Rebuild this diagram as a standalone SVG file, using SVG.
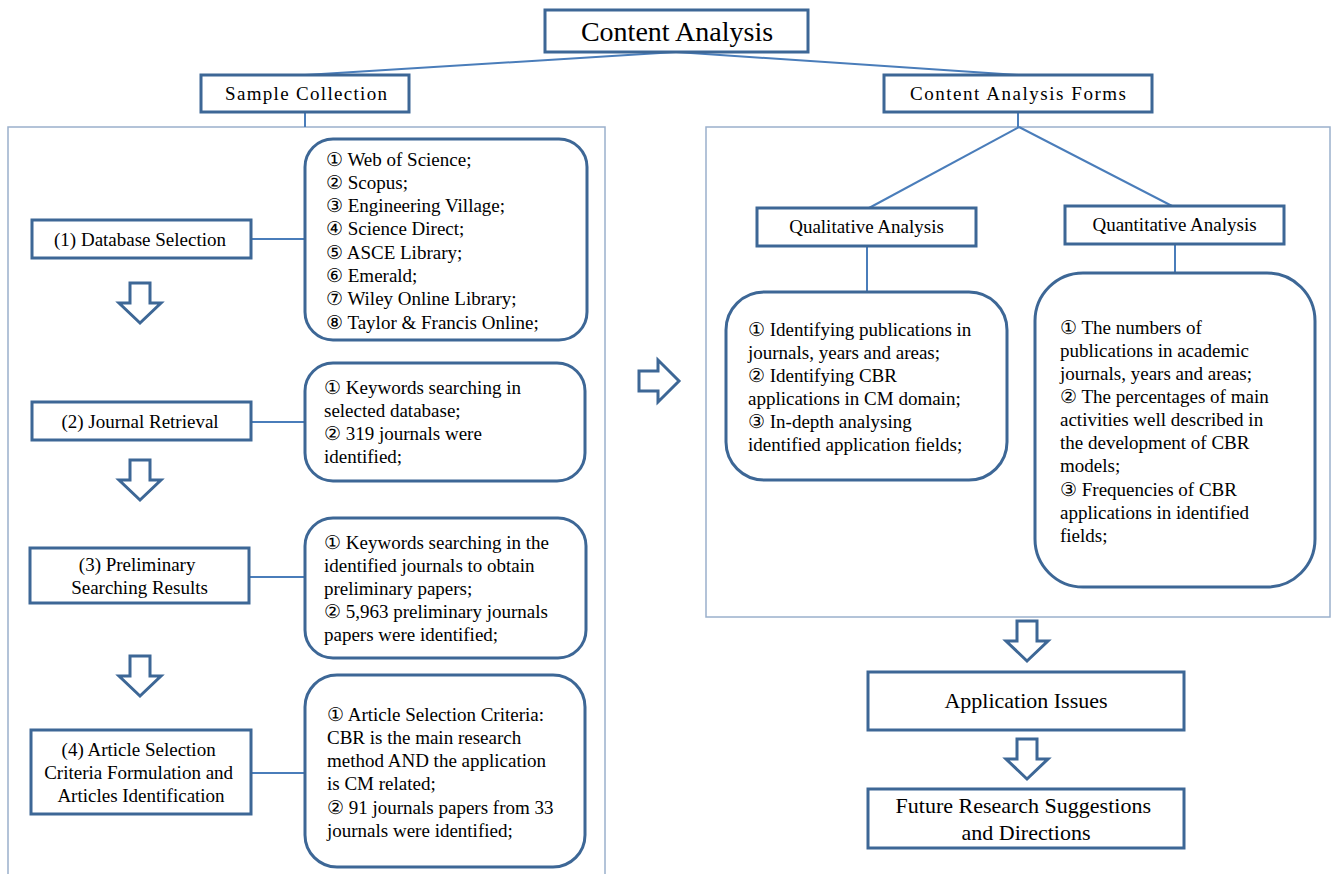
<svg xmlns="http://www.w3.org/2000/svg" width="1333" height="874" viewBox="0 0 1333 874">
<defs>
<style>
text{font-family:"Liberation Serif","Times New Roman",Tinos,"DejaVu Serif",serif;fill:#000;}
.box{fill:#fff;stroke:#3D6796;stroke-width:3;}
.rbox{fill:#fff;stroke:#3D6796;stroke-width:3;}
.panel{fill:none;stroke:#9AB0CC;stroke-width:1.5;}
.conn{fill:none;stroke:#4A7DBA;stroke-width:2;}
.arrow{fill:#fff;stroke:#3D6796;stroke-width:3;stroke-linejoin:miter;}
.lbl{font-size:19px;text-anchor:middle;}
.body{font-size:19px;}
</style>
<path id="darr" d="M-10,0 H10 V20 H21 L0,40 L-21,20 H-10 Z"/>
</defs>
<rect width="1333" height="874" fill="#fff"/>

<g id="panels">
<rect class="panel" x="8" y="127" width="597" height="760"/>
<rect class="panel" x="706" y="127" width="624" height="490"/>
</g>

<g id="connectors">
<line class="conn" x1="676" y1="52" x2="305" y2="75"/>
<line class="conn" x1="676" y1="52" x2="1018" y2="75"/>
<line class="conn" x1="305" y1="112" x2="305" y2="127"/>
<line class="conn" x1="1018" y1="112" x2="1018" y2="127"/>
<line class="conn" x1="1019" y1="127" x2="869" y2="208"/>
<line class="conn" x1="1019" y1="127" x2="1174" y2="207"/>
<line class="conn" x1="867" y1="246" x2="867" y2="292"/>
<line class="conn" x1="1175" y1="244" x2="1175" y2="273"/>
<line class="conn" x1="251" y1="239" x2="305" y2="239"/>
<line class="conn" x1="251" y1="422" x2="305" y2="422"/>
<line class="conn" x1="249" y1="577" x2="305" y2="577"/>
<line class="conn" x1="251" y1="773" x2="305" y2="773"/>
</g>

<g id="arrows">
<use href="#darr" class="arrow" x="140" y="283"/>
<use href="#darr" class="arrow" x="140" y="460"/>
<use href="#darr" class="arrow" x="140" y="656"/>
<use href="#darr" class="arrow" x="1027" y="621"/>
<use href="#darr" class="arrow" x="1027" y="739"/>
<path class="arrow" d="M639,371 H658 V360 L679,381 L658,402 V391 H639 Z"/>
</g>

<g id="n-content-analysis">
<rect class="box" x="545" y="10" width="263" height="42"/>
<text x="677" y="41" style="font-size:28px;text-anchor:middle">Content Analysis</text>
</g>

<g id="n-sample-collection">
<rect class="box" x="201" y="75" width="208" height="37"/>
<text x="306" y="100" class="lbl" textLength="162" lengthAdjust="spacing">Sample Collection</text>
</g>

<g id="n-forms">
<rect class="box" x="884" y="75" width="268" height="37"/>
<text x="1018" y="100" class="lbl" textLength="216" lengthAdjust="spacing">Content Analysis Forms</text>
</g>

<g id="n-db-selection">
<rect class="box" x="32" y="220" width="219" height="38"/>
<text x="140" y="246" class="lbl">(1) Database Selection</text>
</g>

<g id="n-db-list">
<rect class="rbox" x="305" y="139" width="282" height="201" rx="28"/>
<text class="body" x="326">
<tspan x="326" y="166">① Web of Science;</tspan>
<tspan x="326" y="189">② Scopus;</tspan>
<tspan x="326" y="212">③ Engineering Village;</tspan>
<tspan x="326" y="235">④ Science Direct;</tspan>
<tspan x="326" y="259">⑤ ASCE Library;</tspan>
<tspan x="326" y="282">⑥ Emerald;</tspan>
<tspan x="326" y="305">⑦ Wiley Online Library;</tspan>
<tspan x="326" y="329">⑧ Taylor &amp; Francis Online;</tspan>
</text>
</g>

<g id="n-journal-retrieval">
<rect class="box" x="32" y="402" width="219" height="38"/>
<text x="140" y="428" class="lbl">(2) Journal Retrieval</text>
</g>

<g id="n-journal-text">
<rect class="rbox" x="305" y="363" width="280" height="118" rx="28"/>
<text class="body">
<tspan x="324" y="394">① Keywords searching in</tspan>
<tspan x="324" y="417">selected database;</tspan>
<tspan x="324" y="440">② 319 journals were</tspan>
<tspan x="324" y="463">identified;</tspan>
</text>
</g>

<g id="n-preliminary">
<rect class="box" x="30" y="548" width="219" height="55"/>
<text class="lbl">
<tspan x="139.5" y="571">(3) Preliminary</tspan>
<tspan x="139.5" y="594">Searching Results</tspan>
</text>
</g>

<g id="n-preliminary-text">
<rect class="rbox" x="305" y="518" width="281" height="140" rx="28"/>
<text class="body">
<tspan x="324" y="549">① Keywords searching in the</tspan>
<tspan x="324" y="572">identified journals to obtain</tspan>
<tspan x="324" y="595">preliminary papers;</tspan>
<tspan x="324" y="618">② 5,963 preliminary journals</tspan>
<tspan x="324" y="641">papers were identified;</tspan>
</text>
</g>

<g id="n-article-selection">
<rect class="box" x="31" y="730" width="220" height="84"/>
<text class="lbl">
<tspan x="141" y="756">(4) Article Selection</tspan>
<tspan x="141" y="779">Criteria Formulation and</tspan>
<tspan x="141" y="802">Articles Identification</tspan>
</text>
</g>

<g id="n-article-text">
<rect class="rbox" x="305" y="675" width="280" height="192" rx="32"/>
<text class="body">
<tspan x="327" y="721">① Article Selection Criteria:</tspan>
<tspan x="327" y="744">CBR is the main research</tspan>
<tspan x="327" y="767">method AND the application</tspan>
<tspan x="327" y="790">is CM related;</tspan>
<tspan x="327" y="814">② 91 journals papers from 33</tspan>
<tspan x="327" y="837">journals were identified;</tspan>
</text>
</g>

<g id="n-qualitative">
<rect class="box" x="757" y="208" width="219" height="38"/>
<text x="866.5" y="233" class="lbl">Qualitative Analysis</text>
</g>

<g id="n-quantitative">
<rect class="box" x="1065" y="206" width="219" height="38"/>
<text x="1174.5" y="231" class="lbl">Quantitative Analysis</text>
</g>

<g id="n-qualitative-text">
<rect class="rbox" x="726" y="292" width="281" height="188" rx="38"/>
<text class="body">
<tspan x="748" y="336">① Identifying publications in</tspan>
<tspan x="748" y="359">journals, years and areas;</tspan>
<tspan x="748" y="382">② Identifying CBR</tspan>
<tspan x="748" y="405">applications in CM domain;</tspan>
<tspan x="748" y="428">③ In-depth analysing</tspan>
<tspan x="748" y="451">identified application fields;</tspan>
</text>
</g>

<g id="n-quantitative-text">
<rect class="rbox" x="1035" y="273" width="280" height="314" rx="48"/>
<text class="body">
<tspan x="1060" y="334">① The numbers of</tspan>
<tspan x="1060" y="357">publications in academic</tspan>
<tspan x="1060" y="380">journals, years and areas;</tspan>
<tspan x="1060" y="403">② The percentages of main</tspan>
<tspan x="1060" y="426">activities well described in</tspan>
<tspan x="1060" y="449">the development of CBR</tspan>
<tspan x="1060" y="472">models;</tspan>
<tspan x="1060" y="496">③ Frequencies of CBR</tspan>
<tspan x="1060" y="519">applications in identified</tspan>
<tspan x="1060" y="542">fields;</tspan>
</text>
</g>

<g id="n-application-issues">
<rect class="box" x="868" y="672" width="316" height="58"/>
<text x="1026" y="708" style="font-size:22px;text-anchor:middle">Application Issues</text>
</g>

<g id="n-future">
<rect class="box" x="868" y="789" width="316" height="59"/>
<text style="font-size:22px;text-anchor:middle">
<tspan x="1026" y="813">Future Research Suggestions</tspan>
<tspan x="1026" y="840">and Directions</tspan>
</text>
</g>
</svg>
